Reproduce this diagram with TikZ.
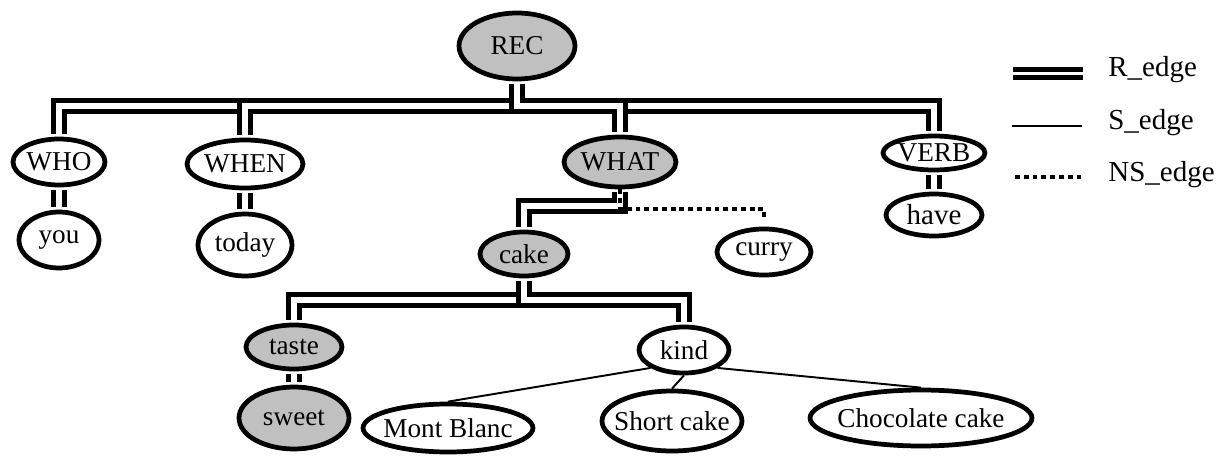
\documentclass[tikz,border=0pt]{standalone}
\usepackage{fontspec}
\setmainfont{Liberation Serif}
\usetikzlibrary{shapes.geometric}
\definecolor{nodegray}{RGB}{192,192,192}
\tikzset{
  nd/.style={ellipse, draw, line width=2.7pt, inner sep=0pt, font=\fontsize{15.5}{18}\selectfont,
    execute at begin node={\hbox to 0pt\bgroup\hss}, execute at end node={\hss\egroup}},
  gnd/.style={nd, fill=nodegray},
  redge/.style={double, line width=2.7pt, double distance=3.4pt, shorten <=1.3pt, shorten >=1.3pt},
  sedge/.style={line width=1.1pt},
  nsedge/.style={line width=2.3pt, dash pattern=on 2.8pt off 2.2pt},
  lgd/.style={anchor=west, inner sep=0pt, font=\fontsize{16.5}{19}\selectfont}
}

\begin{document}
\begin{tikzpicture}[x=0.02cm, y=-0.02cm]
            \useasboundingbox (0,0) rectangle (1218,456);
            \node[gnd, minimum width=2.32cm, minimum height=1.32cm] (REC) at (517,46) {REC};
            
            \node[nd, minimum width=1.84cm, minimum height=0.92cm] (WHO) at (59,162) {WHO};
            \node[nd, minimum width=2.32cm, minimum height=0.96cm] (WHEN) at (245,164) {WHEN};
            \node[gnd, minimum width=2.24cm, minimum height=1.0cm] (WHAT) at (620,162) {WHAT};
            \node[nd, minimum width=2.04cm, minimum height=0.68cm] (VERB) at (934,153) {VERB};
            
            \node[nd, minimum width=1.6cm, minimum height=1.12cm] (YOU) at (59,240) {you};
            \node[nd, minimum width=1.88cm, minimum height=1.24cm] (TODAY) at (245,245) {today};
            \node[nd, minimum width=1.92cm, minimum height=0.84cm, font=\fontsize{16.5}{19}\selectfont] (HAVE) at (934,215) {have};
            \node[gnd, minimum width=1.76cm, minimum height=0.88cm] (CAKE) at (524,254) {cake};
            \node[nd, minimum width=1.88cm, minimum height=0.92cm] (CURRY) at (764,252) {curry};
            
            \node[gnd, minimum width=1.92cm, minimum height=0.88cm] (TASTE) at (294,347) {taste};
            \node[gnd, minimum width=2.2cm, minimum height=1.24cm] (SWEET) at (294,418) {sweet};
            \node[nd, minimum width=1.8cm, minimum height=0.92cm] (KIND) at (684,350) {kind};
            \node[nd, minimum width=3.4cm, minimum height=0.96cm] (MB) at (448,428) {Mont Blanc};
            \node[nd, minimum width=2.8cm, minimum height=1.2cm] (SC) at (672,421) {Short cake};
            \node[nd, minimum width=4.44cm, minimum height=1.12cm] (CC) at (921,418) {Chocolate cake};
            
            \coordinate (B1) at (517,106);
            \coordinate (B2) at (620,206);
            \coordinate (B3) at (524,300);
            \coordinate (N1) at (620,209);
            
            \draw[redge] (REC.south) -- (B1) -| (WHO.north);
            \draw[redge] (REC.south) -- (B1) -| (WHEN.north);
            \draw[redge] (REC.south) -- (B1) -| (VERB.north);
            \draw[redge] (REC.south) -- (B1) -| (WHAT.north);
            \draw[redge] (WHAT.south) -- (B2) -| (CAKE.north);
            \draw[redge] (CAKE.south) -- (B3) -| (TASTE.north);
            \draw[redge] (CAKE.south) -- (B3) -| (KIND.north);
            \draw[nsedge, shorten >=5.7pt] (WHAT.south) -- (N1) -| (CURRY.north);
            \path
            (WHO) edge[redge] (YOU)
            (WHEN) edge[redge] (TODAY)
            (VERB) edge[redge] (HAVE)
            (TASTE) edge[redge] (SWEET)
            (KIND.south west) edge[sedge] (MB.north)
            (KIND.south) edge[sedge] (SC.north)
            (KIND.south east) edge[sedge] (CC.north);
            
            \coordinate (LR1) at (1013,73.5);
            \coordinate (LR2) at (1083,73.5);
            \coordinate (LS1) at (1012,126);
            \coordinate (LS2) at (1082,126);
            \coordinate (LN1) at (1015,177);
            \coordinate (LN2) at (1082,177);
            \draw[double, line width=2.6pt, double distance=1.9pt] (LR1) -- (LR2);
            \draw[line width=1.3pt] (LS1) -- (LS2);
            \draw[nsedge] (LN1) -- (LN2);
            \node[lgd] (RL) at (1108,70) {R\_edge};
            \node[lgd] (SL) at (1108,123) {S\_edge};
            \node[lgd] (NSL) at (1108,175) {NS\_edge};
            \end{tikzpicture}
\end{document}
